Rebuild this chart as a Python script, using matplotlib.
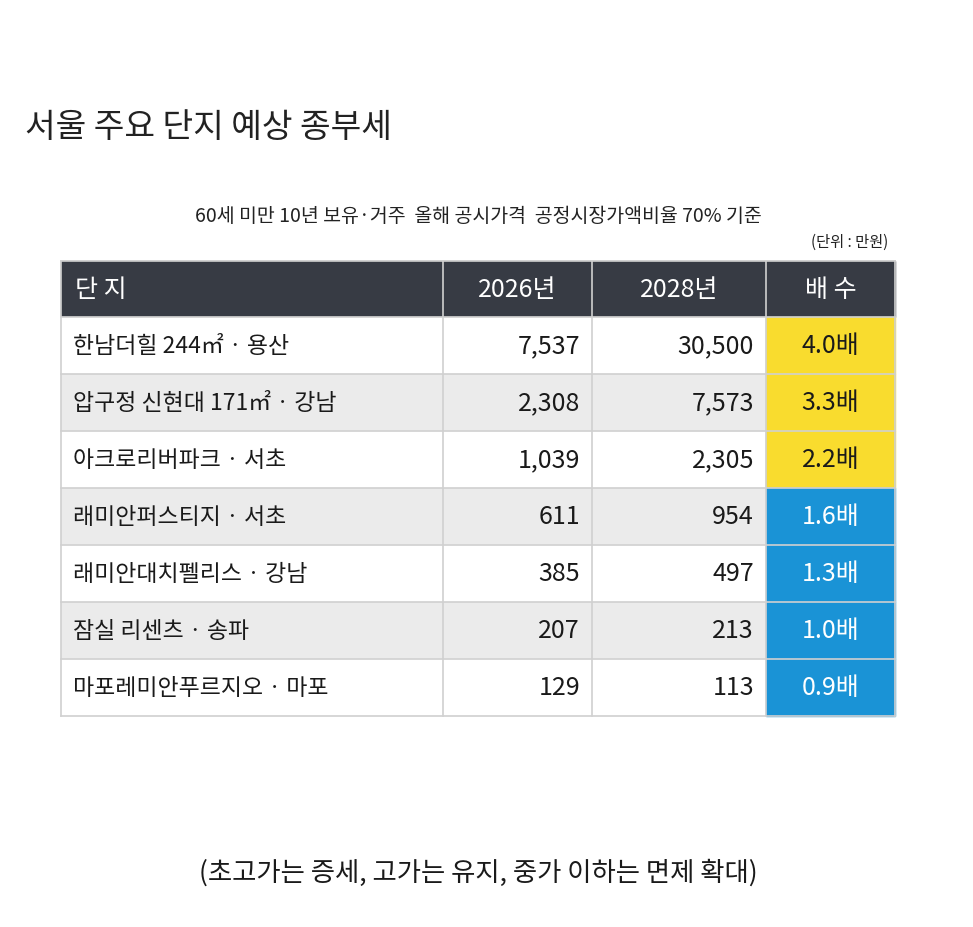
import matplotlib.pyplot as plt
from matplotlib.patches import Rectangle

plt.rcParams['font.family'] = ['Noto Sans CJK KR', 'DejaVu Sans']

complexes = ['한남더힐 244㎡ · 용산', '압구정 신현대 171㎡ · 강남', '아크로리버파크 · 서초',
             '래미안퍼스티지 · 서초', '래미안대치펠리스 · 강남', '잠실 리센츠 · 송파',
             '마포레미안푸르지오 · 마포']
tax_2026 = [7537, 2308, 1039, 611, 385, 207, 129]
tax_2028 = [30500, 7573, 2305, 954, 497, 213, 113]
ratio = [4.0, 3.3, 2.2, 1.6, 1.3, 1.0, 0.9]
headers = ['단 지', '2026년', '2028년', '배 수']

W, H = 973, 928
fig = plt.figure(figsize=(W / 100, H / 100), dpi=100)
ax = fig.add_axes([0, 0, 1, 1])
ax.set_xlim(0, W)
ax.set_ylim(H, 0)
ax.axis('off')

ax.text(25, 128, '서울 주요 단지 예상 종부세', fontsize=24, fontweight='medium',
        color='#222222', va='center')
ax.text(478, 216, '60세 미만 10년 보유·거주  올해 공시가격  공정시장가액비율 70% 기준',
        fontsize=14, ha='center', va='center', color='#222222')
ax.text(888, 242, '(단위 : 만원)', fontsize=11, ha='right', va='center', color='#222222')

cols = [61, 443, 592, 766, 895]
top, head_h, row_h = 262, 56, 57

# header
ax.add_patch(Rectangle((cols[0], top), cols[-1] - cols[0], head_h, color='#373b44'))
for i, h in enumerate(headers):
    if i == 0:
        ax.text(cols[0] + 14, top + head_h / 2, h, color='white', fontsize=18,
                va='center', fontweight='medium')
    else:
        ax.text((cols[i] + cols[i + 1]) / 2, top + head_h / 2, h, color='white',
                fontsize=18, ha='center', va='center', fontweight='medium')

for r, name in enumerate(complexes):
    y0 = top + head_h + r * row_h
    bg = '#ffffff' if r % 2 == 0 else '#ebebeb'
    ax.add_patch(Rectangle((cols[0], y0), cols[3] - cols[0], row_h, color=bg))
    hi = '#f9dc2e' if ratio[r] >= 2 else '#1a93d6'
    ax.add_patch(Rectangle((cols[3], y0), cols[4] - cols[3], row_h, color=hi))
    yc = y0 + row_h / 2
    ax.text(cols[0] + 12, yc, name, fontsize=16.5, va='center', color='#1a1a1a',
            fontweight='medium')
    ax.text(cols[2] - 12, yc, f'{tax_2026[r]:,}', fontsize=18, ha='right',
            va='center', color='#1a1a1a', fontweight='medium')
    ax.text(cols[3] - 12, yc, f'{tax_2028[r]:,}', fontsize=18, ha='right',
            va='center', color='#1a1a1a', fontweight='medium')
    ax.text((cols[3] + cols[4]) / 2, yc, f'{ratio[r]:.1f}배', fontsize=18,
            ha='center', va='center', fontweight='medium',
            color='#1a1a1a' if ratio[r] >= 2 else 'white')

bottom = top + head_h + len(complexes) * row_h
# grid lines
for x in cols:
    ax.plot([x, x], [top, bottom], color='#d0d0d0', lw=1.2)
for r in range(len(complexes) + 1):
    y = top + head_h + r * row_h
    ax.plot([cols[0], cols[-1]], [y, y], color='#d0d0d0', lw=1.2)
ax.plot([cols[0], cols[-1]], [top, top], color='#d0d0d0', lw=1.2)

ax.text(478, 873, '(초고가는 증세, 고가는 유지, 중가 이하는 면제 확대)', fontsize=19,
        ha='center', va='center', color='#1a1a1a', fontweight='medium')

fig.savefig('out.png', dpi=100)
